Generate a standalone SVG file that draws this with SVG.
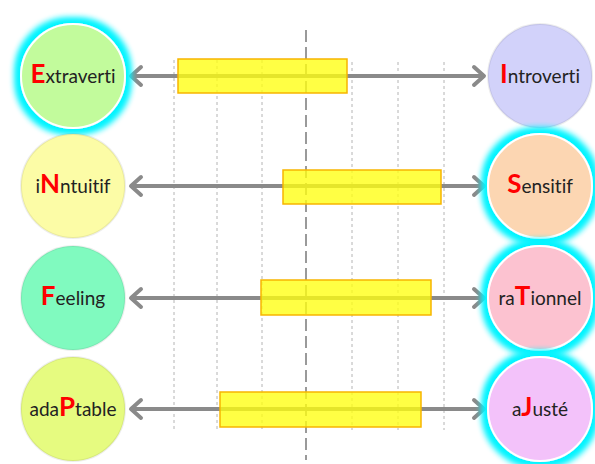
<svg xmlns="http://www.w3.org/2000/svg" width="595" height="464" viewBox="0 0 595 464">
<style>
.grid{stroke:#b4b4b4;stroke-width:1;stroke-dasharray:3 3;fill:none}
.mid{stroke:#9a9a9a;stroke-width:2;stroke-dasharray:12 5;fill:none}
.conn{stroke:#8a8a8a;stroke-width:4;fill:none;marker-start:url(#arr);marker-end:url(#arr)}
.bar{fill:#ffff10;fill-opacity:0.78;stroke:#f7b500;stroke-width:1.5}
.node circle{stroke:rgba(0,0,0,0.07);stroke-width:2}
.node.hl circle{stroke:#ffffff;stroke-width:2;filter:url(#glow)}
.lbl{font-family:Lato,"Open Sans","Liberation Sans",sans-serif;font-size:19px;fill:#222;text-anchor:middle;font-variant-ligatures:none;font-feature-settings:"liga" 0}
.k{fill:#ff0000;font-size:26px;font-weight:bold}
</style>
<defs>
<marker id="arr" viewBox="-14 -12 18 24" markerWidth="18" markerHeight="24" refX="0" refY="0" orient="auto-start-reverse" markerUnits="userSpaceOnUse">
<path d="M-10,-9 L0,0 L-10,9" stroke="#8a8a8a" stroke-width="4" fill="none" stroke-linecap="round" stroke-linejoin="round"/>
</marker>
<filter id="glow" x="-40%" y="-40%" width="180%" height="180%">
<feMorphology in="SourceAlpha" operator="dilate" radius="4" result="d"/>
<feGaussianBlur in="d" stdDeviation="3.5" result="b"/>
<feFlood flood-color="#00f4ff"/>
<feComposite in2="b" operator="in" result="g"/>
<feMerge><feMergeNode in="g"/><feMergeNode in="g"/><feMergeNode in="SourceGraphic"/></feMerge>
</filter>
</defs>
<g id="grid">
<line class="grid" x1="174" y1="60" x2="174" y2="430"/>
<line class="grid" x1="217" y1="60" x2="217" y2="430"/>
<line class="grid" x1="262" y1="60" x2="262" y2="430"/>
<line class="grid" x1="352" y1="62" x2="352" y2="430"/>
<line class="grid" x1="398" y1="62" x2="398" y2="430"/>
<line class="grid" x1="444" y1="62" x2="444" y2="430"/>
<line class="mid" x1="306" y1="30" x2="306" y2="460"/>
</g>
<g id="connectors">
<line class="conn" x1="131" y1="76" x2="484" y2="76"/>
<line class="conn" x1="131" y1="186" x2="484" y2="186"/>
<line class="conn" x1="131" y1="298" x2="484" y2="298"/>
<line class="conn" x1="131" y1="409" x2="484" y2="409"/>
</g>
<g id="bars">
<rect class="bar" x="178" y="59" width="169" height="34"/>
<rect class="bar" x="283" y="170" width="158" height="34"/>
<rect class="bar" x="261" y="280" width="170" height="35"/>
<rect class="bar" x="220" y="392" width="201" height="35"/>
</g>
<g id="extraverti" class="node hl"><circle cx="73" cy="76" r="52" fill="#c2fb9c"/><text class="lbl" x="73" y="83"><tspan class="k">E</tspan>xtraverti</text></g>
<g id="introverti" class="node"><circle cx="540" cy="76" r="52" fill="#d2d2fa"/><text class="lbl" x="540" y="83"><tspan class="k">I</tspan>ntroverti</text></g>
<g id="intuitif" class="node"><circle cx="73" cy="186" r="52" fill="#fcfca6"/><text class="lbl" x="73" y="193">i<tspan class="k">N</tspan>ntuitif</text></g>
<g id="sensitif" class="node hl"><circle cx="540" cy="186" r="52" fill="#fcd6b2"/><text class="lbl" x="540" y="193"><tspan class="k">S</tspan>ensitif</text></g>
<g id="feeling" class="node"><circle cx="73" cy="298" r="52" fill="#80fabf"/><text class="lbl" x="73" y="305"><tspan class="k">F</tspan>eeling</text></g>
<g id="rationnel" class="node hl"><circle cx="540" cy="298" r="52" fill="#fcc2d0"/><text class="lbl" x="540" y="305">ra<tspan class="k">T</tspan>ionnel</text></g>
<g id="adaptable" class="node"><circle cx="73" cy="409" r="52" fill="#e6fb80"/><text class="lbl" x="73" y="416">ada<tspan class="k">P</tspan>table</text></g>
<g id="ajuste" class="node hl"><circle cx="540" cy="409" r="52" fill="#f3c2fa"/><text class="lbl" x="540" y="416">a<tspan class="k">J</tspan>usté</text></g>
</svg>
